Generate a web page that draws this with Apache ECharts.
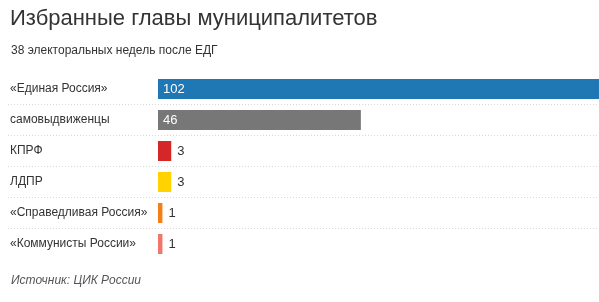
<!DOCTYPE html>
<html><head><meta charset="utf-8">
<script src="https://cdn.jsdelivr.net/npm/echarts@6/dist/echarts.min.js"></script>
<style>html,body{margin:0;padding:0;background:#fff}#c{width:599px;height:302px}</style>
</head><body><div id="c"></div>
<script>
const categories = ['«Единая Россия»', 'самовыдвиженцы', 'КПРФ', 'ЛДПР', '«Справедливая Россия»', '«Коммунисты России»'];
const values = [102, 46, 3, 3, 1, 1];
const barColors = ['#1f77b4', '#777777', '#d62728', '#ffd200', '#f57f17', '#f2756b'];
const titleText = 'Избранные главы муниципалитетов';
const subtitleText = '38 электоральных недель после ЕДГ';
const sourceText = 'Источник: ЦИК России';

const font = 'Liberation Sans, Arial, sans-serif';
const chart = echarts.init(document.getElementById('c'), null, {renderer: 'canvas'});
const data = values.map((v, i) => ({
  value: v,
  itemStyle: {color: barColors[i]},
  label: v > 10
    ? {position: 'insideLeft', color: '#fff', distance: 5}
    : {position: 'right', color: '#333', distance: 6}
}));
chart.setOption({
  animation: false,
  textStyle: {fontFamily: font},
  title: [
    {text: titleText, left: 10, top: 8, padding: 0, textStyle: {fontSize: 22, fontWeight: 'normal', color: '#333', fontFamily: font}},
    {text: subtitleText, left: 11, top: 45, padding: 0, textStyle: {fontSize: 12, fontWeight: 'normal', color: '#333', fontFamily: font}},
    {text: sourceText, left: 11, top: 275, padding: 0, textStyle: {fontSize: 12, fontWeight: 'normal', fontStyle: 'italic', color: '#555', fontFamily: font}}
  ],
  grid: [
    {left: 158, right: 0, top: 73.5, height: 186},
    {left: 8, right: 0, top: 73.5, height: 186}
  ],
  xAxis: [
    {gridIndex: 0, type: 'value', min: 0, max: 100, show: false},
    {gridIndex: 1, type: 'value', min: 0, max: 1, show: false}
  ],
  yAxis: [
    {gridIndex: 0, type: 'category', data: categories, inverse: true,
     axisLine: {show: false}, axisTick: {show: false}, splitLine: {show: false},
     axisLabel: {align: 'left', margin: 148, fontSize: 12, color: '#333', fontFamily: font}},
    {gridIndex: 1, type: 'category', data: categories, inverse: true,
     axisLine: {show: false}, axisTick: {show: false}, axisLabel: {show: false},
     splitLine: {show: true, showMinLine: false, showMaxLine: false,
       lineStyle: {color: '#d8d8d8', type: [1, 2], width: 1}}}
  ],
  series: [{
    type: 'bar', xAxisIndex: 0, yAxisIndex: 0, barWidth: 20, clip: true,
    data: data,
    label: {show: true, fontSize: 13, fontFamily: font}
  }]
});
</script>
</body></html>
